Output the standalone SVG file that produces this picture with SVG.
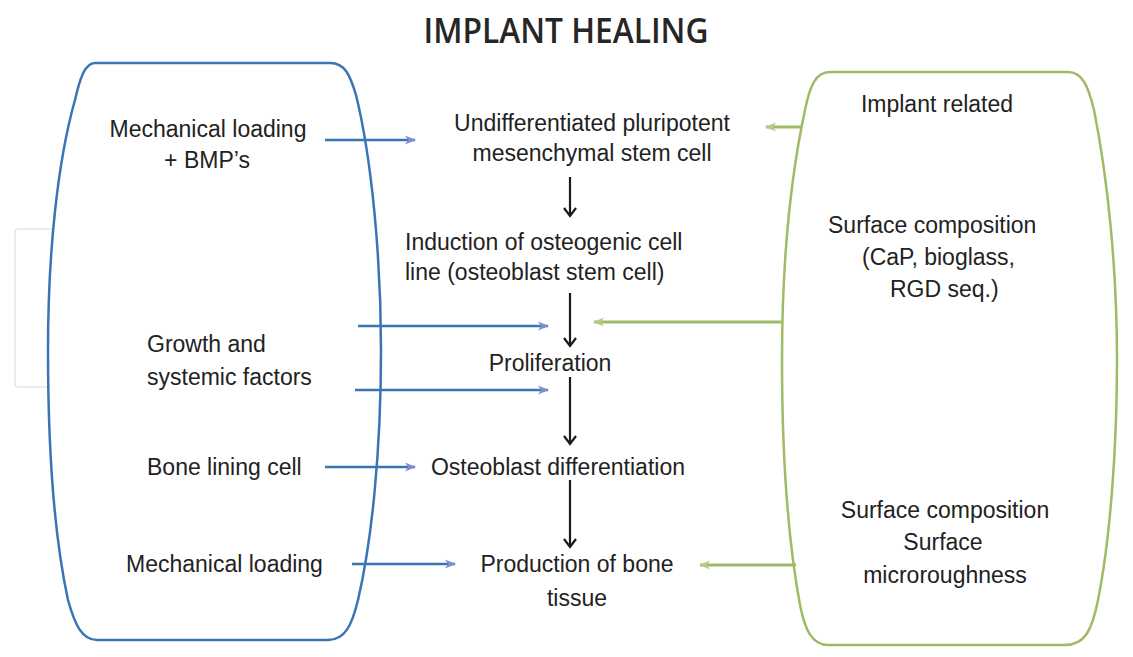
<svg xmlns="http://www.w3.org/2000/svg" width="1133" height="657" viewBox="0 0 1133 657">
  <defs>
    <style>
      .t { font-family: "Liberation Sans", Arial, sans-serif; font-size: 23px; fill: #222; }
      .m { text-anchor: middle; }
      .title { font-family: "Open Sans", "Liberation Sans", sans-serif; font-weight: 600; font-size: 34px; fill: #262626; }
      .blue { stroke: #3b74b6; stroke-width: 2.5; fill: none; }
      .green { stroke: #9fbb66; stroke-width: 3; fill: none; }
      .black { stroke: #1a1a1a; stroke-width: 2.2; fill: none; }
    </style>
    <marker id="hb" markerWidth="12" markerHeight="10" refX="10" refY="5" orient="auto" markerUnits="userSpaceOnUse">
      <path d="M0,0.5 L11,5 L0,9.5 L3,5 Z" fill="#7c8ed0"/>
    </marker>
    <marker id="hg" markerWidth="14" markerHeight="10" refX="10" refY="5" orient="auto" markerUnits="userSpaceOnUse">
      <path d="M0,0.5 L11,5 L0,9.5 L3,5 Z" fill="#b9c98a"/>
    </marker>
    <marker id="hk" markerWidth="16" markerHeight="14" refX="7" refY="12" orient="0" markerUnits="userSpaceOnUse">
      <path d="M1,4 L7,12 L13,4" fill="none" stroke="#1a1a1a" stroke-width="2.2"/>
    </marker>
  </defs>

  <rect width="1133" height="657" fill="#ffffff"/>
  <rect x="15" y="229" width="80" height="158" rx="3" fill="none" stroke="#e6e6e6" stroke-width="1.5"/>

  <text class="title" x="566" y="43" text-anchor="middle" textLength="285" lengthAdjust="spacingAndGlyphs">IMPLANT HEALING</text>

  <g id="left-group">
    <path class="blue" fill="#fff" d="M 95 63 L 330 63 C 345 63 350 75 356 95 C 372 160 381 260 381 350 C 381 450 372 540 358 600 C 352 625 345 640 328 640 L 97 640 C 82 640 75 625 68 600 C 55 540 48 450 48 350 C 48 250 58 160 75 100 C 80 78 85 63 95 63 Z" style="fill:#fff"/>
    <text class="t m" x="208" y="137">Mechanical loading</text>
    <text class="t m" x="207" y="168">+ BMP’s</text>
    <text class="t" x="147" y="352">Growth and</text>
    <text class="t" x="147" y="385">systemic factors</text>
    <text class="t" x="147" y="475">Bone lining cell</text>
    <text class="t" x="126" y="572">Mechanical loading</text>
  </g>

  <g id="right-group">
    <path class="green" d="M 830 72 L 1068 72 C 1082 72 1088 85 1094 110 C 1108 180 1117 270 1117 360 C 1117 450 1110 540 1098 600 C 1092 630 1085 645 1065 645 L 828 645 C 812 645 805 630 800 605 C 788 540 782 450 782 360 C 782 270 790 180 805 110 C 810 85 816 72 830 72 Z" style="fill:#fff;stroke-width:2.5"/>
    <text class="t m" x="937" y="112">Implant related</text>
    <text class="t" x="828" y="233">Surface composition</text>
    <text class="t" x="862" y="265">(CaP, bioglass,</text>
    <text class="t" x="890" y="297">RGD seq.)</text>
    <text class="t m" x="945" y="518">Surface composition</text>
    <text class="t m" x="943" y="550">Surface</text>
    <text class="t m" x="945" y="583">microroughness</text>
  </g>

  <g id="stem-cell"><text class="t m" x="592" y="131">Undifferentiated pluripotent</text><text class="t m" x="592" y="161">mesenchymal stem cell</text></g>
  <g id="induction"><text class="t" x="405" y="250">Induction of osteogenic cell</text><text class="t" x="405" y="280">line (osteoblast stem cell)</text></g>
  <g id="proliferation"><text class="t m" x="550" y="371">Proliferation</text></g>
  <g id="osteoblast-diff"><text class="t m" x="558" y="475">Osteoblast differentiation</text></g>
  <g id="bone-production"><text class="t m" x="577" y="572">Production of bone</text><text class="t m" x="577" y="606">tissue</text></g>

  <g id="connectors">
    <line class="black" x1="570" y1="177" x2="570" y2="216" marker-end="url(#hk)"/>
    <line class="black" x1="570" y1="293" x2="570" y2="346" marker-end="url(#hk)"/>
    <line class="black" x1="570" y1="377" x2="570" y2="444" marker-end="url(#hk)"/>
    <line class="black" x1="570" y1="480" x2="570" y2="547" marker-end="url(#hk)"/>

    <line class="blue" x1="325" y1="140" x2="415" y2="140" marker-end="url(#hb)"/>
    <line class="blue" x1="358" y1="326" x2="548" y2="326" marker-end="url(#hb)"/>
    <line class="blue" x1="355" y1="390" x2="548" y2="390" marker-end="url(#hb)"/>
    <line class="blue" x1="325" y1="467" x2="415" y2="467" marker-end="url(#hb)"/>
    <line class="blue" x1="352" y1="564" x2="455" y2="564" marker-end="url(#hb)"/>

    <line class="green" x1="802" y1="127" x2="766" y2="127" marker-end="url(#hg)"/>
    <line class="green" x1="783" y1="322" x2="594" y2="322" marker-end="url(#hg)"/>
    <line class="green" x1="796" y1="565" x2="700" y2="565" marker-end="url(#hg)"/>
  </g>
</svg>
